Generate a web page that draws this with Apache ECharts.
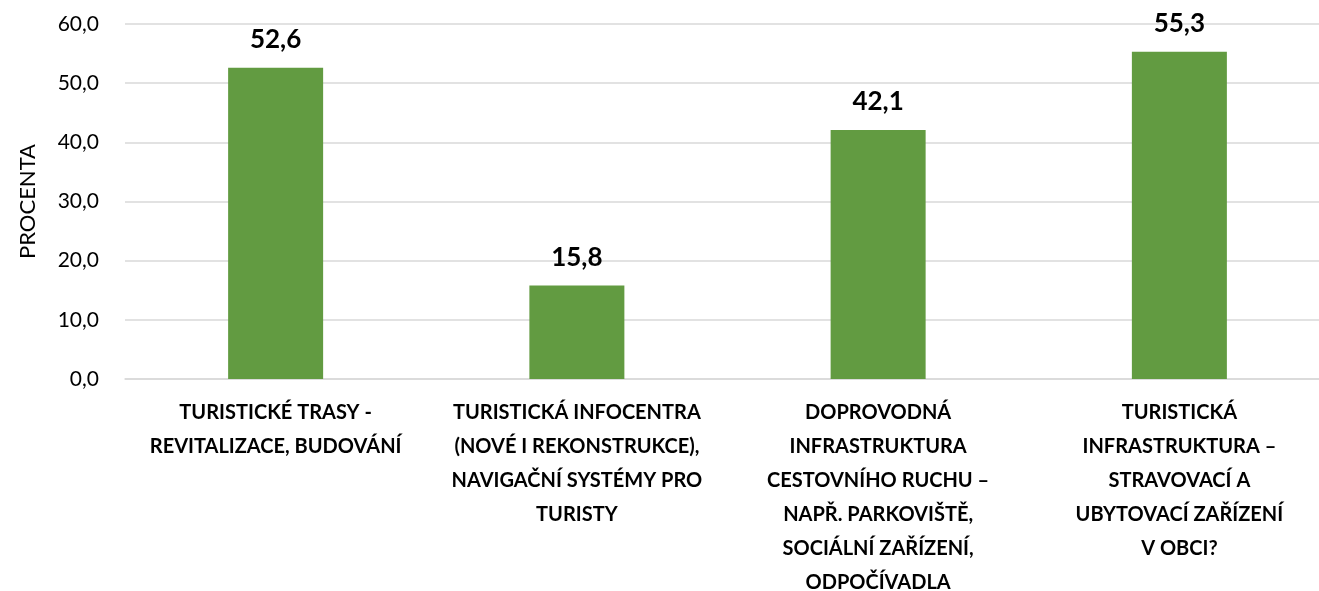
<!DOCTYPE html>
<html><head><meta charset="utf-8">
<script src="https://cdn.jsdelivr.net/npm/echarts@6/dist/echarts.min.js"></script>
<style>html,body{margin:0;padding:0;background:#fff}#c{width:1319px;height:591px}</style>
</head><body><div id="c"></div>
<script>
const categories = [
  "TURISTICKÉ TRASY -\nREVITALIZACE, BUDOVÁNÍ",
  "TURISTICKÁ INFOCENTRA\n(NOVÉ I REKONSTRUKCE),\nNAVIGAČNÍ SYSTÉMY PRO\nTURISTY",
  "DOPROVODNÁ\nINFRASTRUKTURA\nCESTOVNÍHO RUCHU –\nNAPŘ. PARKOVIŠTĚ,\nSOCIÁLNÍ ZAŘÍZENÍ,\nODPOČÍVADLA",
  "TURISTICKÁ\nINFRASTRUKTURA –\nSTRAVOVACÍ A\nUBYTOVACÍ ZAŘÍZENÍ\nV OBCI?"
];
const values = [52.6, 15.8, 42.1, 55.3];
const yAxisName = "PROCENTA";
const fmt = v => Number(v).toFixed(1).replace('.', ',');
const FONT = 'Lato';
const chart = echarts.init(document.getElementById('c'), null, {renderer: 'canvas'});
chart.setOption({
  animation: false,
  grid: {left: 125, top: 24, width: 1205, height: 355, containLabel: false, outerBoundsMode: 'none'},
  xAxis: {
    type: 'category', data: categories,
    axisLine: {show: true, lineStyle: {color: '#d9d9d9', width: 1.5}},
    axisTick: {show: false},
    axisLabel: {interval: 0, margin: 17, color: '#000', fontFamily: FONT, fontWeight: 'bold', fontSize: 20, lineHeight: 34, align: 'center'}
  },
  yAxis: {
    type: 'value', min: 0, max: 60, interval: 10,
    name: yAxisName, nameLocation: 'middle', nameRotate: 90, nameGap: 86,
    nameTextStyle: {color: '#000', fontFamily: FONT, fontSize: 22},
    axisLine: {show: false}, axisTick: {show: false},
    splitLine: {lineStyle: {color: '#d9d9d9', width: 1.5}},
    axisLabel: {margin: 26, color: '#000', fontFamily: FONT, fontSize: 21, formatter: fmt}
  },
  series: [{
    type: 'bar', data: values, barWidth: 95,
    itemStyle: {color: '#629b41'},
    label: {show: true, position: 'top', distance: 15, color: '#000', fontFamily: FONT, fontWeight: 'bold', fontSize: 26, formatter: p => fmt(p.value)}
  }]
});
</script></body></html>
